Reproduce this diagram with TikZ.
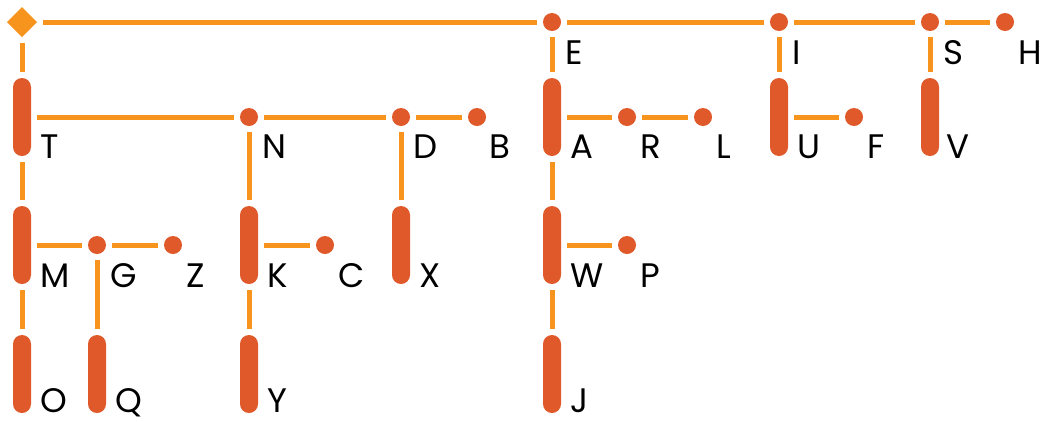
\documentclass[tikz,border=0pt]{standalone}
\usepackage{fontspec}
\setmainfont{Poppins}
\usepackage{xcolor}
\usepackage{tikz}
\usetikzlibrary{shapes.geometric, positioning}
\definecolor{linec}{HTML}{F7941D}
\definecolor{markc}{HTML}{E0592A}

\begin{document}
\begin{tikzpicture}[
    x=1pt, y=-1pt,
    start/.style={diamond, fill=linec, minimum size=30pt, inner sep=0pt, outer sep=0pt},
    dot/.style={circle, fill=markc, minimum size=18pt, inner sep=0pt, outer sep=0pt},
    dah/.style={rectangle, fill=markc, rounded corners=9pt, minimum width=18pt, minimum height=78pt, inner sep=0pt, outer sep=0pt},
    letter/.style={anchor=base west, inner sep=0pt, font=\fontsize{34}{34}\selectfont},
    link/.style={draw=linec, line width=5pt, shorten >=6pt, shorten <=6pt}
]
    \useasboundingbox (0,0) rectangle (1048,421);

    % Nodes
    \node (root) [start] at (22,22) {};
    \node (E) [dot] at (552,22) {};
    \node (I) [dot] at (779,22) {};
    \node (S) [dot] at (930,22) {};
    \node (H) [dot] at (1005,22) {};

    \node (T) [dah] at (22,117) {};
    \node (N) [dot] at (249,117) {};
    \node (D) [dot] at (401,117) {};
    \node (B) [dot] at (477,117) {};
    \node (A) [dah] at (552,117) {};
    \node (R) [dot] at (627,117) {};
    \node (L) [dot] at (703,117) {};
    \node (U) [dah] at (779,117) {};
    \node (F) [dot] at (854,117) {};
    \node (V) [dah] at (930,117) {};

    \node (M) [dah] at (22,245) {};
    \node (G) [dot] at (97,245) {};
    \node (Z) [dot] at (173,245) {};
    \node (K) [dah] at (249,245) {};
    \node (C) [dot] at (325,245) {};
    \node (X) [dah] at (401,245) {};
    \node (W) [dah] at (552,245) {};
    \node (P) [dot] at (627,245) {};

    \node (O) [dah] at (22,374) {};
    \node (Q) [dah] at (97,374) {};
    \node (Y) [dah] at (249,374) {};
    \node (J) [dah] at (552,374) {};

    % Letters
    \node (tE) [letter] at (565,64) {E};
    \node (tI) [letter] at (792,64) {I};
    \node (tS) [letter] at (943,64) {S};
    \node (tH) [letter] at (1018,64) {H};
    \node (tT) [letter] at (40,158) {T};
    \node (tN) [letter] at (262,158) {N};
    \node (tD) [letter] at (413,158) {D};
    \node (tB) [letter] at (489,158) {B};
    \node (tA) [letter] at (570,158) {A};
    \node (tR) [letter] at (640,158) {R};
    \node (tL) [letter] at (716,158) {L};
    \node (tU) [letter] at (797,158) {U};
    \node (tF) [letter] at (867,158) {F};
    \node (tV) [letter] at (946,158) {V};
    \node (tM) [letter] at (40,287) {M};
    \node (tG) [letter] at (110,287) {G};
    \node (tZ) [letter] at (186,287) {Z};
    \node (tK) [letter] at (267,287) {K};
    \node (tC) [letter] at (338,287) {C};
    \node (tX) [letter] at (419,287) {X};
    \node (tW) [letter] at (570,287) {W};
    \node (tP) [letter] at (640,287) {P};
    \node (tO) [letter] at (40,412) {O};
    \node (tQ) [letter] at (115,412) {Q};
    \node (tY) [letter] at (267,412) {Y};
    \node (tJ) [letter] at (570,412) {J};

    % Links
    \draw [link] (root) -- (E);
    \draw [link] (E) -- (I);
    \draw [link] (I) -- (S);
    \draw [link] (S) -- (H);

    \draw [link] (root) -- (T);
    \draw [link] (T) -- (M);
    \draw [link] (M) -- (O);
    \draw [link] (T) -- (N);
    \draw [link] (N) -- (D);
    \draw [link] (D) -- (B);
    \draw [link] (N) -- (K);
    \draw [link] (K) -- (Y);
    \draw [link] (K) -- (C);
    \draw [link] (D) -- (X);
    \draw [link] (M) -- (G);
    \draw [link] (G) -- (Z);
    \draw [link] (G) -- (Q);

    \draw [link] (E) -- (A);
    \draw [link] (A) -- (R);
    \draw [link] (R) -- (L);
    \draw [link] (A) -- (W);
    \draw [link] (W) -- (P);
    \draw [link] (W) -- (J);
    \draw [link] (I) -- (U);
    \draw [link] (U) -- (F);
    \draw [link] (S) -- (V);

\end{tikzpicture}
\end{document}
